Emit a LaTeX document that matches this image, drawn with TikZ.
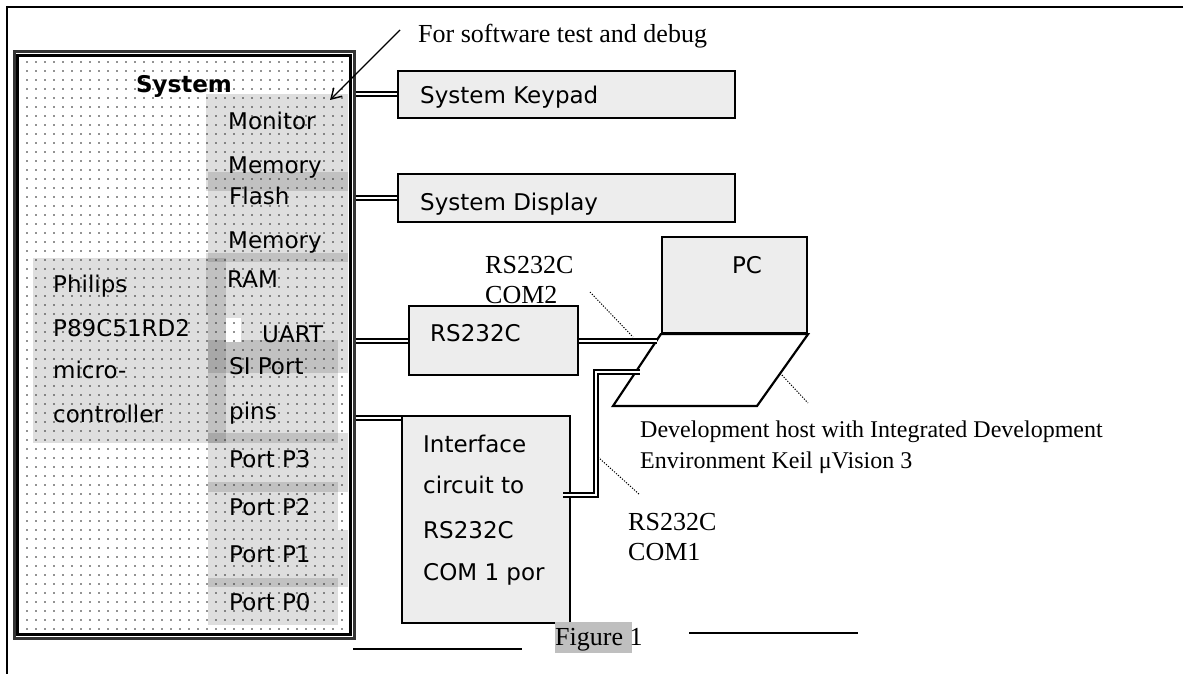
\documentclass[tikz,border=0pt]{standalone}
\usepackage{fontspec}
\setmainfont{Liberation Serif}
\newfontfamily\gsans{DejaVu Sans}
\usetikzlibrary{patterns.meta,arrows.meta,calc}
\begin{document}
\begin{tikzpicture}[x=1pt,y=-1pt,
  sans/.style={font=\gsans\fontsize{23}{27}\selectfont, inner sep=0pt, anchor=base west},
  ser/.style={font=\fontsize{26}{30}\selectfont, inner sep=0pt, anchor=base west},
  serdev/.style={font=\fontsize{24}{28}\selectfont, inner sep=0pt, anchor=base west},
  boxd/.style={draw=black, line width=2.2pt, fill=black!7, inner sep=0pt},
  dbl/.style={draw=black, double=white, double distance=2pt, line width=2pt},
  shadebox/.style={fill=black, fill opacity=0.13, draw=none},
  leader/.style={line width=1pt, dash pattern=on 1.2pt off 1.5pt},
  frameline/.style={line width=2.5pt},
]
\useasboundingbox (0,0) rectangle (1185,674);
\fill[white] (0,0) rectangle (1185,674);

% frame
\draw[frameline] (1183,7) -- (6,7);
\draw[frameline] (7,6) -- (7,674);

% system box node
\node[draw=black!80, line width=3pt, minimum width=340pt, minimum height=586pt, inner sep=0pt] (sys) at (184,345) {};

% gray shaded blocks
\fill[shadebox] (33,258) rectangle (226,443);   % Philips
\fill[shadebox] (206,94) rectangle (348,191);   % Monitor Memory
\fill[shadebox] (208,172) rectangle (348,262);  % Flash Memory
\fill[shadebox] (206,253) rectangle (348,315);  % RAM
\fill[shadebox] (208,315) rectangle (348,373);  % UART
\fill[shadebox] (208,340) rectangle (338,443);  % SI Port pins
\fill[shadebox] (208,433) rectangle (348,492);  % Port P3
\fill[shadebox] (208,482) rectangle (338,530);  % Port P2
\fill[shadebox] (208,530) rectangle (348,587);  % Port P1
\fill[shadebox] (208,578) rectangle (338,625);  % Port P0
\fill[white] (226,318) rectangle (241,342);

% dots
\fill[pattern={Dots[distance=9pt, radius=0.8pt]}, pattern color=black!85] (21,59) rectangle (347,631);

% inner border
\draw[line width=2.2pt] ($(sys.north west)+(5,5)$) rectangle ($(sys.south east)+(-5,-5)$);

% system texts
\node[font=\gsans\bfseries\fontsize{23}{27}\selectfont, inner sep=0pt, anchor=base] (tsys) at (184,93) {System};
\node[sans] (tmon) at (228,129) {Monitor};
\node[sans] (tmem1) at (228,173) {Memory};
\node[sans] (tfl) at (229,204) {Flash};
\node[sans] (tmem2) at (228,248) {Memory};
\node[sans] (tram) at (227,287) {RAM};
\node[sans] (tuart) at (262,342) {UART};
\node[sans] (tsi) at (229,374) {SI Port};
\node[sans] (tpins) at (229,419) {pins};
\node[sans] (tp3) at (229,467) {Port P3};
\node[sans] (tp2) at (229,515) {Port P2};
\node[sans] (tp1) at (229,562) {Port P1};
\node[sans] (tp0) at (229,610) {Port P0};
\node[sans] (tph1) at (53,292) {Philips};
\node[sans] (tph2) at (53,336) {P89C51RD2};
\node[sans] (tph3) at (53,378) {micro-};
\node[sans] (tph4) at (53,422) {controller};

% right side boxes
\node[boxd, minimum width=337pt, minimum height=47pt] (kp) at (566.5,94.5) {};
\node[boxd, minimum width=337pt, minimum height=48pt] (dp) at (566.5,198) {};
\node[boxd, minimum width=169pt, minimum height=69pt] (rs) at (493.5,340.5) {};
\node[boxd, minimum width=168pt, minimum height=207pt] (ifc) at (486,519.5) {};
\node[boxd, minimum width=145pt, minimum height=96pt] (pc) at (734.5,285) {};

% keyboard of laptop
\coordinate (kbbr) at (757,406);
\coordinate (kbbl) at (613,406);
\draw[line width=2.2pt, fill=white, line join=miter] (pc.south west) -- (pc.south east) -- (kbbr) -- (kbbl) -- cycle;

% box texts
\node[sans] (tkp) at (420,104) {System Keypad};
\node[sans] (tdp) at (420,210) {System Display};
\node[sans] (trs) at (430,341) {RS232C};
\node[sans] (ti1) at (423,452) {Interface};
\node[sans] (ti2) at (423,493) {circuit to};
\node[sans] (ti3) at (423,538) {RS232C};
\node[sans] (ti4) at (423,580) {COM 1 por};
\node[font=\gsans\fontsize{23}{27}\selectfont, inner sep=0pt, anchor=base] (tpc) at (747,273) {PC};

% connectors
\coordinate (pcin) at (657,340.5);
\coordinate (pcin2) at (640,372);
\path (ifc.north west) ++(0,3) coordinate (ifcin);
\path (ifc.east) ++(-8,-24.5) coordinate (ifcout);
\draw[dbl] (sys.east |- kp.west) -- (kp.west);
\draw[dbl] (sys.east |- dp.west) -- (dp.west);
\draw[dbl] (sys.east |- rs.west) -- (rs.west);
\draw[dbl] (sys.east |- ifcin) -- (ifcin);
\draw[dbl] (rs.east) -- (pcin);
\draw[dbl] (ifcout) -- ++(33,0) |- (pcin2);

% arrow
\coordinate (arrs) at (400,30);
\coordinate (arrt) at (330,100);
\draw[line width=1.4pt, -{Straight Barb[length=10pt,width=12pt,line width=1.4pt]}] (arrs) -- (arrt);

% leaders
\coordinate (l1a) at (590,292); \coordinate (l1b) at (633,337);
\coordinate (l2a) at (780,373); \coordinate (l2b) at (808,403);
\coordinate (l3a) at (598,457); \coordinate (l3b) at (640,495);
\draw[leader] (l1a) -- (l1b);
\draw[leader] (l2a) -- (l2b);
\draw[leader] (l3a) -- (l3b);

% serif labels
\node[ser] (tfor) at (418,43) {For software test and debug};
\node[ser] (tc2a) at (485,273) {RS232C};
\node[ser] (tc2b) at (485,303) {COM2};
\node[serdev] (tdev1) at (640,437) {Development host with Integrated Development};
\node[serdev] (tdev2) at (640,468) {Environment Keil μVision 3};
\node[ser] (tc1a) at (628,530) {RS232C};
\node[ser] (tc1b) at (628,560) {COM1};

% figure caption
\fill[black!25] (555,622) rectangle (632,653);
\node[ser] (tfig) at (555,645) {Figure 1};
\coordinate (bl1a) at (353,649); \coordinate (bl1b) at (522,649);
\coordinate (bl2a) at (689,633); \coordinate (bl2b) at (858,633);
\draw[line width=1.8pt] (bl1a) -- (bl1b);
\draw[line width=1.8pt] (bl2a) -- (bl2b);
\end{tikzpicture}
\end{document}
